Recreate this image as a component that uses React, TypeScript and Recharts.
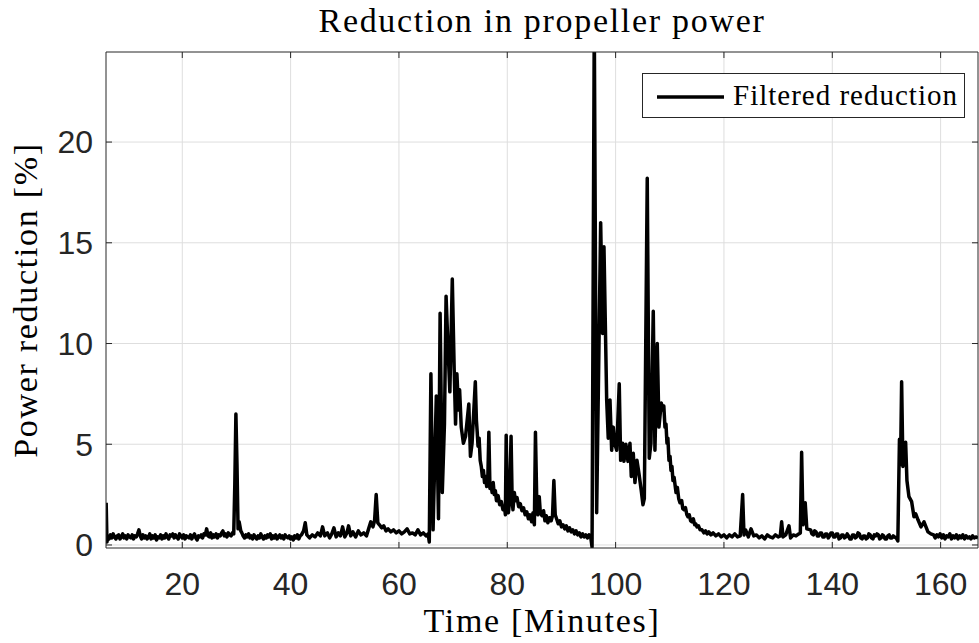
import React from 'react';
import { LineChart, Line, XAxis, YAxis, CartesianGrid, Legend } from 'recharts';

const timeMin = [
  5.95, 6.1,
  6.25, 6.5, 6.75, 7.0, 7.25, 7.5, 7.75, 8.0, 8.25, 8.5, 8.75, 9.0, 9.25, 9.5, 9.75, 10.0, 10.25, 10.5, 10.75, 11.0,
  11.25, 11.5, 11.75, 12.0, 12.25, 12.5, 12.75, 13.0, 13.25, 13.5, 13.75, 14.0, 14.25, 14.5, 14.75, 15.0, 15.25, 15.5, 15.75, 16.0,
  16.25, 16.5, 16.75, 17.0, 17.25, 17.5, 17.75, 18.0, 18.25, 18.5, 18.75, 19.0, 19.25, 19.5, 19.75, 20.0, 20.25, 20.5, 20.75, 21.0,
  21.25, 21.5, 21.75, 22.0, 22.25, 22.5, 22.75, 23.0, 23.25, 23.5, 23.75, 24.0, 24.25, 24.5, 24.75, 25.0, 25.25, 25.5, 25.75, 26.0,
  26.25, 26.5, 26.75, 27.0, 27.25, 27.5, 27.75, 28.0, 28.25, 28.5, 28.75, 29.0, 29.25, 29.5,
  29.7, 29.9, 30.1, 30.3, 30.5, 30.8,
  31.0, 31.25, 31.5, 31.75, 32.0, 32.25, 32.5, 32.75, 33.0, 33.25, 33.5, 33.75, 34.0, 34.25, 34.5, 34.75, 35.0, 35.25, 35.5, 35.75,
  36.0, 36.25, 36.5, 36.75, 37.0, 37.25, 37.5, 37.75, 38.0, 38.25, 38.5, 38.75, 39.0, 39.25, 39.5, 39.75, 40.0, 40.25, 40.5, 40.75,
  41.0, 41.25, 41.5, 41.75, 42.0, 42.4, 42.7, 43.0, 43.5, 44.0, 44.5, 45.0, 45.5, 45.9, 46.3, 46.8, 47.2, 47.6, 48.0, 48.4,
  48.8, 49.2, 49.6, 50.0, 50.4, 50.7, 51.1, 51.5, 52.0, 52.5, 53.0, 53.5, 54.0, 54.4, 54.8, 55.2, 55.5, 55.8, 56.1, 56.4,
  56.8, 57.2, 57.6, 58.0, 58.5, 59.0, 59.5, 60.0, 60.5, 61.0, 61.5, 62.0, 62.5, 63.0, 63.5, 64.0, 64.5, 65.0, 65.4, 65.6,
  65.9, 66.3, 66.9, 67.3, 67.6, 68.0, 68.4, 68.7, 69.0, 69.4, 69.85, 70.2, 70.45, 70.7, 71.0, 71.2, 71.5, 71.9, 72.3, 72.9,
  73.2, 73.5, 74.1, 74.3, 74.45, 74.6, 74.8, 75.0, 75.2, 75.4, 75.6, 75.8, 76.0, 76.2, 76.4, 76.6, 76.8, 77.0, 77.2, 77.4,
  77.6, 77.8, 78.0, 78.3, 78.6, 78.9, 79.2, 79.5, 79.65, 79.8, 80.0, 80.2, 80.4, 80.7, 80.9, 81.05, 81.3, 81.5, 81.8, 82.1,
  82.4, 82.7, 83.0, 83.3, 83.6, 83.9, 84.2, 84.5, 84.75, 85.0, 85.2, 85.45, 85.65, 85.9, 86.1, 86.4, 86.7, 86.95, 87.2, 87.5,
  87.8, 88.1, 88.35, 88.6, 88.85, 89.1, 89.4, 89.7, 90.0, 90.3, 90.6, 90.9, 91.2, 91.5, 91.8, 92.1, 92.4, 92.7, 93.0, 93.3,
  93.6, 93.9, 94.2, 94.5, 94.8, 95.1, 95.4, 95.65, 96.06, 96.5, 97.24, 97.6, 97.85, 98.35, 98.64, 98.96, 99.27, 99.57, 99.82, 100.2,
  100.67, 100.93, 101.3, 101.54, 101.9, 102.28, 102.65, 102.89, 103.26, 103.57, 103.94, 104.31, 104.73, 105.05, 105.3, 105.84, 106.21, 106.52, 106.95, 107.26,
  107.69, 108.0, 108.43, 108.74, 108.9, 109.11, 109.3, 109.48, 109.65, 109.85, 110.05, 110.22, 110.4, 110.59, 110.8, 111.15, 111.4, 111.65, 111.88, 112.2,
  112.4, 112.62, 112.9, 113.15, 113.36, 113.6, 113.85, 114.1, 114.35, 114.6, 114.8, 115.02, 115.3, 115.6, 115.95, 116.3, 116.6, 116.9, 117.2, 117.6,
  118.0, 118.5, 119.0, 119.5, 120.0, 120.5, 121.0, 121.5, 122.0, 122.5, 123.0, 123.45, 123.7, 124.0, 124.5, 125.0, 125.5, 126.0, 126.5, 127.0,
  127.5, 128.0, 128.5, 129.0, 129.5, 130.0, 130.4, 130.65, 130.9, 131.4, 132.0, 132.3, 132.8, 133.3, 133.8, 134.1, 134.34, 134.6, 135.0, 135.3,
  136.0, 136.25, 136.5, 136.75, 137.0, 137.25, 137.5, 137.75, 138.0, 138.25, 138.5, 138.75, 139.0, 139.25, 139.5, 139.75, 140.0, 140.25, 140.5, 140.75,
  141.0, 141.25, 141.5, 141.75, 142.0, 142.25, 142.5, 142.75, 143.0, 143.25, 143.5, 143.75, 144.0, 144.25, 144.5, 144.75, 145.0, 145.25, 145.5, 145.75,
  146.0, 146.25, 146.5, 146.75, 147.0, 147.25, 147.5, 147.75, 148.0, 148.25, 148.5, 148.75, 149.0, 149.25, 149.5, 149.75, 150.0, 150.25, 150.5, 150.75,
  151.0, 151.25, 151.5, 151.8, 152.1, 152.4, 152.6, 152.8, 153.04, 153.54, 153.78, 154.15, 154.65, 155.08, 155.4, 155.82, 156.37, 156.93, 157.66, 158.2,
  158.7, 159.0, 159.3, 159.6, 159.9, 160.2, 160.5, 160.8, 161.1, 161.4, 161.7, 162.0, 162.3, 162.6, 162.9, 163.2, 163.5, 163.8, 164.1, 164.4,
  164.7, 165.0, 165.3, 165.6, 165.9, 166.2, 166.5, 166.9,
];

const powerReduction = [
  2.1, 0.15,
  0.45, 0.3, 0.5, 0.35, 0.55, 0.4, 0.3, 0.45, 0.5, 0.3, 0.4, 0.55, 0.35, 0.45, 0.3, 0.5, 0.4, 0.35, 0.5, 0.3,
  0.45, 0.4, 0.55, 0.75, 0.45, 0.3, 0.5, 0.35, 0.45, 0.3, 0.4, 0.55, 0.3, 0.45, 0.35, 0.5, 0.25, 0.4, 0.35, 0.5,
  0.3, 0.45, 0.35, 0.55, 0.4, 0.3, 0.5, 0.45, 0.55, 0.35, 0.5, 0.4, 0.3, 0.55, 0.45, 0.35, 0.5, 0.3, 0.45, 0.4,
  0.35, 0.5, 0.3, 0.45, 0.55, 0.35, 0.25, 0.45, 0.4, 0.5, 0.35, 0.55, 0.5, 0.8, 0.45, 0.4, 0.6, 0.35, 0.5, 0.4,
  0.55, 0.35, 0.5, 0.45, 0.6, 0.7, 0.45, 0.55, 0.4, 0.6, 0.5, 0.45, 0.6, 0.55,
  3.0, 6.5, 4.0, 0.8, 1.15, 0.7,
  0.6, 0.45, 0.35, 0.5, 0.4, 0.55, 0.35, 0.45, 0.3, 0.5, 0.4, 0.3, 0.45, 0.35, 0.55, 0.4, 0.3, 0.45, 0.35, 0.5,
  0.4, 0.55, 0.3, 0.45, 0.35, 0.5, 0.3, 0.4, 0.5, 0.35, 0.45, 0.3, 0.5, 0.4, 0.35, 0.45, 0.3, 0.4, 0.25, 0.45,
  0.35, 0.5, 0.3, 0.45, 0.5, 0.7, 1.1, 0.5, 0.35, 0.5, 0.4, 0.6, 0.45, 0.9, 0.45, 0.6, 0.35, 0.55, 0.85, 0.4,
  0.6, 0.45, 0.9, 0.4, 0.6, 0.95, 0.45, 0.65, 0.4, 0.7, 0.5, 0.6, 0.45, 0.8, 1.15, 0.9, 1.2, 2.5, 1.1, 1.0,
  0.85, 0.95, 0.7, 0.8, 0.65, 0.75, 0.6, 0.7, 0.55, 0.65, 0.8, 0.55, 0.6, 0.5, 0.75, 0.5, 0.6, 0.45, 0.55, 0.15,
  8.5, 0.75, 7.4, 1.3, 11.5, 2.6, 6.0, 12.35, 10.2, 7.6, 13.2, 8.7, 6.0, 8.5, 6.7, 7.7, 5.85, 5.05, 5.4, 7.0,
  4.4, 5.05, 8.1, 6.2, 5.6, 4.9, 5.3, 4.2, 3.9, 3.4, 3.7, 3.1, 3.4, 2.9, 3.2, 5.6, 2.8, 3.0, 2.6, 3.1,
  2.5, 2.7, 2.2, 2.45, 2.0, 2.15, 1.75, 1.85, 1.5, 5.45, 2.0, 1.6, 2.1, 5.4, 2.2, 1.75, 2.6, 2.2, 2.35, 1.9,
  2.05, 1.7, 1.85, 1.5, 1.65, 1.3, 1.5, 1.15, 1.6, 1.0, 5.6, 2.1, 1.5, 2.4, 1.6, 1.45, 1.7, 1.2, 1.45, 1.1,
  1.35, 1.2, 1.45, 3.2, 1.5, 1.3, 1.05, 1.2, 0.9, 1.0, 0.8, 0.95, 0.7, 0.85, 0.65, 0.75, 0.55, 0.7, 0.5, 0.6,
  0.4, 0.55, 0.4, 0.5, 0.35, 0.5, 0.4, -0.1, 26.0, 1.6, 16.0, 10.5, 14.8, 7.2, 5.3, 7.2, 4.7, 5.85, 5.05, 4.7,
  8.0, 4.2, 5.05, 4.15, 5.0, 4.15, 5.05, 3.4, 4.55, 3.1, 4.2, 3.55, 2.7, 2.0, 2.3, 18.2, 4.3, 5.05, 11.6, 4.7,
  10.0, 5.85, 7.05, 6.7, 6.9, 5.85, 6.0, 5.05, 5.3, 4.2, 4.4, 3.7, 3.9, 3.2, 3.35, 2.6, 2.85, 2.3, 2.1, 2.2,
  1.8, 1.75, 1.85, 1.5, 1.4, 1.5, 1.2, 1.15, 1.3, 1.0, 1.05, 0.9, 0.95, 0.75, 0.75, 0.6, 0.7, 0.55, 0.65, 0.5,
  0.6, 0.45, 0.55, 0.4, 0.5, 0.35, 0.5, 0.4, 0.55, 0.4, 0.45, 2.5, 0.5, 0.75, 0.4, 0.8, 0.45, 0.5, 0.35, 0.45,
  0.3, 0.5, 0.4, 0.35, 0.5, 0.4, 0.45, 1.15, 0.4, 0.5, 0.95, 0.35, 0.5, 0.45, 0.55, 0.6, 4.6, 1.0, 2.1, 0.8,
  0.75, 0.55, 0.5, 0.7, 0.65, 0.45, 0.45, 0.6, 0.6, 0.4, 0.4, 0.55, 0.55, 0.35, 0.45, 0.6, 0.6, 0.4, 0.4, 0.55,
  0.55, 0.3, 0.35, 0.5, 0.5, 0.35, 0.4, 0.55, 0.45, 0.3, 0.3, 0.5, 0.5, 0.35, 0.4, 0.6, 0.55, 0.35, 0.3, 0.45,
  0.45, 0.3, 0.35, 0.55, 0.5, 0.35, 0.3, 0.5, 0.45, 0.55, 0.5, 0.3, 0.35, 0.5, 0.45, 0.3, 0.3, 0.45, 0.5, 0.35,
  0.35, 0.45, 0.4, 0.35, 0.2, 5.25, 4.0, 8.1, 3.9, 5.1, 3.2, 2.4, 2.15, 1.4, 1.55, 1.25, 0.9, 1.15, 0.65, 0.55,
  0.5, 0.35, 0.5, 0.4, 0.55, 0.35, 0.5, 0.3, 0.45, 0.4, 0.55, 0.3, 0.45, 0.35, 0.5, 0.3, 0.45, 0.35, 0.5, 0.3,
  0.45, 0.35, 0.4, 0.3, 0.45, 0.35, 0.4, 0.35,
];

const xTicks = [20, 40, 60, 80, 100, 120, 140, 160];
const yTicks = [0, 5, 10, 15, 20];
const seriesName = 'Filtered reduction';
const titleText = 'Reduction in propeller power';
const xLabelText = 'Time [Minutes]';
const yLabelText = 'Power reduction [%]';

const data = timeMin.map((t, i) => ({ t, v: powerReduction[i] }));

const AXIS = '#262626';
const SERIF = '"Liberation Serif", "DejaVu Serif", serif';
const SANS = '"Liberation Sans", Arial, sans-serif';

const X_DOMAIN: [number, number] = [5.92, 166.9];
const Y_DOMAIN: [number, number] = [-0.15, 24.47];

const renderLegend = () => (
  <div
    style={{
      width: 321,
      height: 43,
      border: `1px solid ${AXIS}`,
      background: '#fff',
      display: 'flex',
      alignItems: 'center',
      boxSizing: 'content-box',
    }}
  >
    <svg width={90} height={43} style={{ display: 'block' }}>
      <line x1={14} y1={23} x2={81} y2={23} stroke="#000" strokeWidth={3.5} />
    </svg>
    <span style={{ fontFamily: SERIF, fontSize: 29, letterSpacing: 1, color: '#000', lineHeight: '43px' }}>
      {seriesName}
    </span>
  </div>
);

const renderYLabel = (props: any) => {
  const vb = props.viewBox || { x: 0, y: 52, width: 106, height: 496 };
  const cx = vb.x + vb.width - 69;
  const cy = vb.y + vb.height / 2;
  return (
    <text
      x={cx}
      y={cy}
      transform={`rotate(-90 ${cx} ${cy})`}
      textAnchor="middle"
      fontFamily={SERIF}
      fontSize={34}
      letterSpacing={1.7}
      fill="#000"
    >
      {yLabelText}
    </text>
  );
};

const renderXLabel = (props: any) => {
  const vb = props.viewBox || { x: 106, y: 548, width: 872, height: 95 };
  const cx = vb.x + vb.width / 2;
  const by = vb.y + 84;
  return (
    <text x={cx} y={by} textAnchor="middle" fontFamily={SERIF} fontSize={34} letterSpacing={1.7} fill="#000">
      {xLabelText}
    </text>
  );
};

export default function App() {
  return (
    <div style={{ position: 'absolute', left: 0, top: 0, width: 979, height: 643, background: '#fff' }}>
      <div
        style={{
          position: 'absolute',
          left: 106,
          width: 872,
          top: 4,
          textAlign: 'center',
          fontFamily: SERIF,
          fontSize: 34,
          lineHeight: '34px',
          letterSpacing: 1.7,
          color: '#000',
        }}
      >
        {titleText}
      </div>
      <LineChart
        width={979}
        height={643}
        data={data}
        margin={{ top: 0, right: 0, bottom: 0, left: 0 }}
      >
        <CartesianGrid stroke="#dedede" strokeWidth={1} horizontalValues={yTicks} verticalValues={xTicks} />
        <XAxis
          dataKey="t"
          type="number"
          domain={X_DOMAIN}
          allowDataOverflow
          ticks={xTicks}
          height={95}
          stroke={AXIS}
          tickSize={-6}
          tickMargin={30}
          tick={{ fill: AXIS, fontFamily: SANS, fontSize: 32 }}
          label={{ content: renderXLabel } as any}
        />
        <XAxis
          xAxisId="top"
          orientation="top"
          dataKey="t"
          type="number"
          domain={X_DOMAIN}
          allowDataOverflow
          ticks={xTicks}
          height={52}
          stroke={AXIS}
          tickSize={-6}
          tickFormatter={() => ''}
        />
        <YAxis
          type="number"
          domain={Y_DOMAIN}
          allowDataOverflow
          ticks={yTicks}
          width={106}
          stroke={AXIS}
          tickSize={-6}
          tickMargin={19}
          tick={{ fill: AXIS, fontFamily: SANS, fontSize: 32 }}
          label={{ content: renderYLabel } as any}
        />
        <YAxis
          yAxisId="right"
          orientation="right"
          type="number"
          domain={Y_DOMAIN}
          allowDataOverflow
          ticks={yTicks}
          width={1}
          stroke={AXIS}
          tickSize={-6}
          tickFormatter={() => ''}
        />
        <Legend
          layout="vertical"
          align="center"
          verticalAlign="middle"
          content={renderLegend}
          wrapperStyle={{ left: 642, top: 73, width: 323, height: 45, right: 'auto', bottom: 'auto' }}
        />
        <Line
          type="linear"
          dataKey="v"
          name={seriesName}
          stroke="#000"
          strokeWidth={3.5}
          strokeLinejoin="round"
          dot={false}
          activeDot={false}
          isAnimationActive={false}
        />
      </LineChart>
    </div>
  );
}
